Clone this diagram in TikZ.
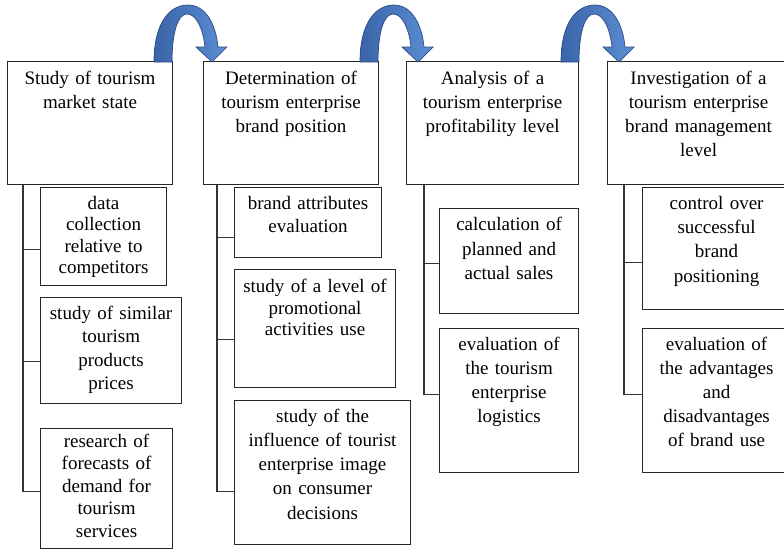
\documentclass[tikz,border=0pt]{standalone}
\usepackage{fontspec}
\setmainfont{Liberation Serif}
\usetikzlibrary{calc}
\definecolor{arrL}{RGB}{58,100,168}
\definecolor{arrR}{RGB}{92,142,212}
\definecolor{arrD}{RGB}{44,76,135}
\tikzset{
  box/.style={draw=black!85, line width=1.1pt, inner sep=0pt, anchor=north west},
  txt/.style={anchor=base, align=center, text width=190pt, inner sep=0pt,
              font=\fontsize{19}{#1}\selectfont},
  txt/.default=22.5,
  conn/.style={draw=black!80, line width=1.4pt},
  blockarrow/.style={left color=arrL, right color=arrR, draw=arrD, line width=0.7pt}
}
\newcommand\mybox[5]{\node[box, minimum width={#4pt-#2pt}, minimum height={#5pt-#3pt}] (#1) at (#2,#3) {};}
\newcommand\myarrow[1]{%
  \begin{scope}[xshift=#1pt]
    \shadedraw[blockarrow] (0,62) .. controls (0,22) and (16,5) .. (34,5)
      .. controls (52,5) and (62,25) .. (64,47) -- (73,47) -- (58,62) -- (42,47) -- (51,47)
      .. controls (49,28) and (42,14) .. (33,14)
      .. controls (24,14) and (18,32) .. (18,62) -- cycle;
  \end{scope}}
\begin{document}
\begin{tikzpicture}[x=1pt, y=-1pt]
\useasboundingbox (0,0) rectangle (784,549);
% main boxes
\mybox{m1}{7}{61}{172}{184}
\mybox{m2}{203}{61}{378}{184}
\mybox{m3}{406}{61}{578}{184}
\mybox{m4}{607}{61}{789}{184}
\node[txt=24] (m1t) at ([yshift=-23pt]m1.north) {Study of tourism\\market state};
\node[txt=24] (m2t) at ([yshift=-23pt]m2.north) {Determination of\\tourism enterprise\\brand position};
\node[txt=24] (m3t) at ([yshift=-23pt]m3.north) {Analysis of a\\tourism enterprise\\profitability level};
\node[txt=24] (m4t) at ([yshift=-23.5pt]m4.north) {Investigation of a\\tourism enterprise\\brand management\\level};
% column 1
\mybox{s11}{40}{187}{166}{285}
\mybox{s12}{40}{297}{181}{403}
\mybox{s13}{40}{428}{172}{548}
\node[txt=21.5] (s11t) at ([yshift=-22pt]s11.north) {data\\collection\\relative to\\competitors};
\node[txt=23.3] (s12t) at ([yshift=-22.5pt]s12.north) {study of similar\\tourism\\products\\prices};
\node[txt=22.5] (s13t) at ([yshift=-19pt]s13.north) {research of\\forecasts of\\demand for\\tourism\\services};
% column 2
\mybox{s21}{234}{187}{381}{257}
\mybox{s22}{234}{269}{395}{387}
\mybox{s23}{234}{400}{410}{544}
\node[txt=23] (s21t) at ([yshift=-22pt]s21.north) {brand attributes\\evaluation};
\node[txt=21.5] (s22t) at ([yshift=-23.5pt]s22.north) {study of a level of\\promotional\\activities use};
\node[txt=24.3] (s23t) at ([yshift=-22pt]s23.north) {study of the\\influence of tourist\\enterprise image\\on consumer\\decisions};
% column 3
\mybox{s31}{439}{208}{578}{313}
\mybox{s32}{439}{328}{578}{472}
\node[txt=24.5] (s31t) at ([yshift=-22.5pt]s31.north) {calculation of\\planned and\\actual sales};
\node[txt=24] (s32t) at ([yshift=-22pt]s32.north) {evaluation of\\the tourism\\enterprise\\logistics};
% column 4
\mybox{s41}{642}{187}{790}{309}
\mybox{s42}{642}{328}{790}{472}
\node[txt=24.2] (s41t) at ([yshift=-22.5pt]s41.north) {control over\\successful\\brand\\positioning};
\node[txt=24] (s42t) at ([yshift=-22pt]s42.north) {evaluation of\\the advantages\\and\\disadvantages\\of brand use};
% connectors
\coordinate (c1) at ([xshift=16pt]m1.south west);
\draw[conn] (c1) |- ([yshift=-13pt]s11.west);
\draw[conn] (c1) |- ([yshift=-11pt]s12.west);
\draw[conn] (c1) |- ([yshift=-3pt]s13.west);
\coordinate (c2) at ([xshift=14pt]m2.south west);
\draw[conn] (c2) |- ([yshift=-15pt]s21.west);
\draw[conn] (c2) |- ([yshift=-11pt]s22.west);
\draw[conn] (c2) |- ([yshift=-19pt]s23.west);
\coordinate (c3) at ([xshift=18pt]m3.south west);
\draw[conn] (c3) |- ([yshift=-2.5pt]s31.west);
\draw[conn] (c3) |- ([yshift=6pt]s32.west);
\coordinate (c4) at ([xshift=17pt]m4.south west);
\draw[conn] (c4) |- ([yshift=-14pt]s41.west);
\draw[conn] (c4) |- ([yshift=6pt]s42.west);
% curved block arrows
\myarrow{154}
\myarrow{360}
\myarrow{561}
\end{tikzpicture}
\end{document}
